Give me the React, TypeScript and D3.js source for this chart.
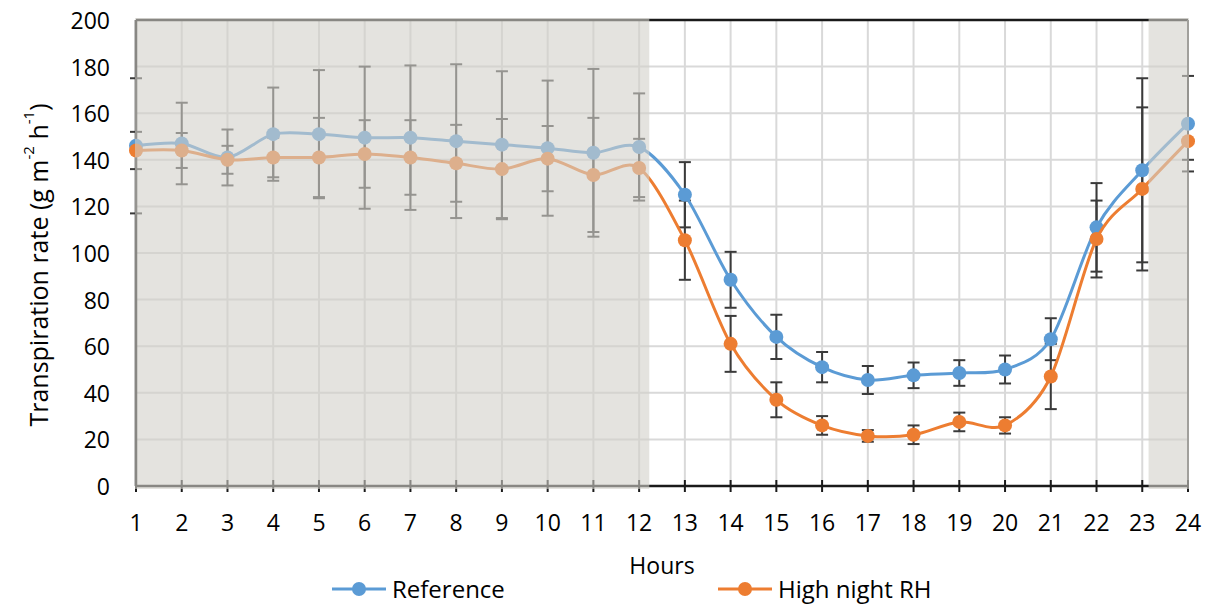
import React from 'react';
import * as d3 from 'd3';

const hours = d3.range(1, 25);
const yTicks = [0, 20, 40, 60, 80, 100, 120, 140, 160, 180, 200];

const reference = [146, 147, 141, 151, 151, 149.5, 149.5, 148, 146.5, 145, 143, 145.5, 125, 88.5, 64, 51, 45.5, 47.5, 48.5, 50, 63, 111, 135.5, 155.5];
const referenceErr = [29, 17.5, 12, 20, 27.5, 30.5, 31, 33, 31.5, 29, 36, 23, 14, 12, 9.5, 6.5, 6, 5.5, 5.5, 6, 9, 19, 39.5, 20.5];
const highRH = [144, 144, 140, 141, 141, 142.5, 141, 138.5, 136, 140.5, 133.5, 136.5, 105.5, 61, 37, 26, 21.5, 22, 27.5, 26, 47, 106, 127.5, 148];
const highRHErr = [8, 7.5, 6, 8.5, 17, 14.5, 16, 16.5, 21.5, 14, 24.5, 12.5, 17, 12, 7.5, 4, 2.5, 4, 4, 3.5, 14, 16.5, 35, 8];

// night hours shaded
const nightBands = [[1, 12.2], [23.16, 24]];

const series = [
    { name: 'Reference', values: reference, err: referenceErr, color: '#5b9bd5' },
    { name: 'High night RH', values: highRH, err: highRHErr, color: '#ed7d31' },
];

const width = 1223;
const height = 605;
const left = 136;
const right = 1188;
const top = 20;
const bottom = 486;
const font = '"Open Sans", sans-serif';

export default function App() {
    const x = d3.scaleLinear().domain([1, 24]).range([left, right]);
    const y = d3.scaleLinear().domain([0, 200]).range([bottom, top]);

    const line = d3
        .line<number>()
        .x((d, i) => x(hours[i]))
        .y(d => y(d))
        .curve(d3.curveCardinal.tension(0.1));

    return (
        <svg
            width={width}
            height={height}
            style={{ position: 'absolute', left: 0, top: 0, background: '#fff' }}
            fontFamily={font}
        >
            <g>
                {hours.map(h => (
                    <line key={'gx' + h} x1={x(h)} x2={x(h)} y1={top} y2={bottom} stroke="#d9d9d9" strokeWidth={2} />
                ))}
                {yTicks.map(t => (
                    <line key={'gy' + t} x1={left} x2={right} y1={y(t)} y2={y(t)} stroke="#d9d9d9" strokeWidth={2} />
                ))}
            </g>
            <g>
                <line x1={left} x2={right} y1={top} y2={top} stroke="#1a1a1a" strokeWidth={2.5} />
                <line x1={right} x2={right} y1={top} y2={bottom} stroke="#595959" strokeWidth={2} />
                <line x1={left} x2={left} y1={top} y2={bottom} stroke="#1a1a1a" strokeWidth={2.5} />
                <line x1={left} x2={right} y1={bottom} y2={bottom} stroke="#1a1a1a" strokeWidth={2.5} />
                {hours.map(h => (
                    <line key={'tx' + h} x1={x(h)} x2={x(h)} y1={bottom - 6} y2={bottom + 6} stroke="#1a1a1a" strokeWidth={2} />
                ))}
            </g>
            {series.map(s => (
                <g key={'e' + s.name} stroke="#3a3a3a" strokeWidth={2}>
                    {s.values.map((v, i) => {
                        const cx = x(hours[i]);
                        const y0 = y(v - s.err[i]);
                        const y1 = y(v + s.err[i]);
                        return (
                            <g key={i}>
                                <line x1={cx} x2={cx} y1={y0} y2={y1} />
                                <line x1={cx - 6} x2={cx + 6} y1={y0} y2={y0} />
                                <line x1={cx - 6} x2={cx + 6} y1={y1} y2={y1} />
                            </g>
                        );
                    })}
                </g>
            ))}
            {series.map(s => (
                <g key={'s' + s.name}>
                    <path d={line(s.values) || ''} fill="none" stroke={s.color} strokeWidth={3} />
                    {s.values.map((v, i) => (
                        <circle key={i} cx={x(hours[i])} cy={y(v)} r={7} fill={s.color} />
                    ))}
                </g>
            ))}
            {nightBands.map((b, i) => (
                <rect
                    key={'n' + i}
                    x={x(b[0]) - 1}
                    y={top - 2}
                    width={x(b[1]) - x(b[0]) + 2}
                    height={bottom - top + 5}
                    fill="rgb(210,208,201)"
                    opacity={0.6}
                />
            ))}
            <g fontSize={23} fill="#000">
                {yTicks.map(t => (
                    <text key={'ly' + t} x={110} y={y(t)} textAnchor="end" dominantBaseline="central">
                        {t}
                    </text>
                ))}
                {hours.map(h => (
                    <text key={'lx' + h} x={x(h)} y={522} textAnchor="middle" dominantBaseline="central">
                        {h}
                    </text>
                ))}
                <text x={662} y={565} textAnchor="middle" dominantBaseline="central">
                    Hours
                </text>
            </g>
            <text
                transform="translate(38,265) rotate(-90)"
                textAnchor="middle"
                dominantBaseline="central"
                fontSize={25}
                fill="#000"
            >
                Transpiration rate (g m<tspan fontSize={15} dy={-10}>-2</tspan>
                <tspan dy={10}> h</tspan>
                <tspan fontSize={15} dy={-10}>-1</tspan>
                <tspan dy={10}>)</tspan>
            </text>
            <g fontSize={24}>
                {series.map((s, i) => {
                    const lx = i === 0 ? 332 : 718;
                    return (
                        <g key={'lg' + s.name}>
                            <line x1={lx} x2={lx + 54} y1={589} y2={589} stroke={s.color} strokeWidth={3} />
                            <circle cx={lx + 27} cy={589} r={7} fill={s.color} />
                            <text x={lx + 60} y={588} dominantBaseline="central">
                                {s.name}
                            </text>
                        </g>
                    );
                })}
            </g>
        </svg>
    );
}
